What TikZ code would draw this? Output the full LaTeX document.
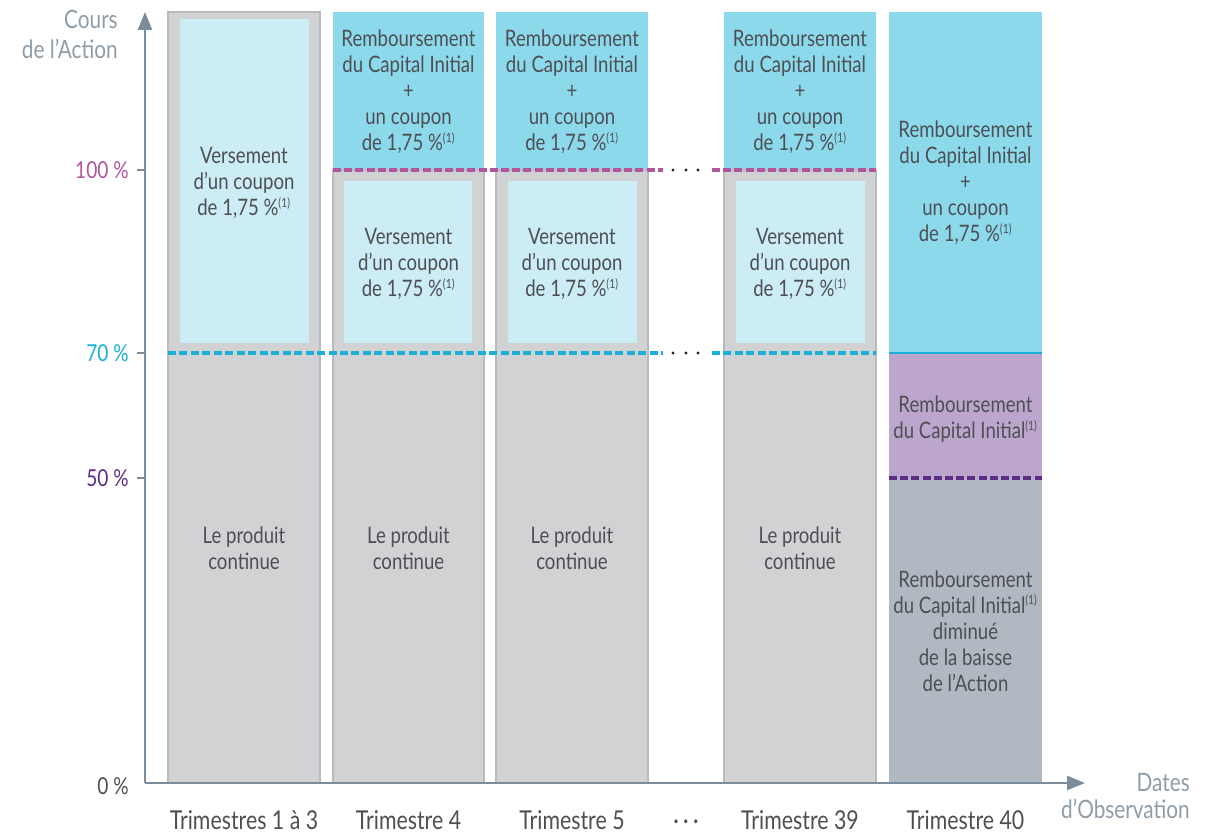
\documentclass[tikz,border=0pt]{standalone}
\usepackage{fontspec}
\setmainfont{Lato}[FakeStretch=0.82]
\usetikzlibrary{arrows.meta}
\definecolor{cgray}{HTML}{D1D2D4}
\definecolor{cborder}{HTML}{B9BBBE}
\definecolor{clight}{HTML}{CDEDF6}
\definecolor{cblue}{HTML}{8DD9EC}
\definecolor{cpurl}{HTML}{BDA6CD}
\definecolor{cgblue}{HTML}{B0B8C1}
\definecolor{cmag}{HTML}{B0569F}
\definecolor{ccyan}{HTML}{19AFD6}
\definecolor{cdpur}{HTML}{5B2D86}
\definecolor{caxis}{HTML}{7B8D9B}
\definecolor{caxlab}{HTML}{8F9CA7}
\definecolor{ctext}{HTML}{4D4F53}
\newcommand\exposant{\textsuperscript{\fontsize{9.5}{9.5}\selectfont(1)}}
\begin{document}
\begin{tikzpicture}[x=0.75pt,y=-0.75pt,
  colbox/.style={fill=cgray,draw=cborder,line width=1.1pt},
  innerbox/.style={fill=clight},
  txt/.style={text=ctext,align=center,inner sep=0pt,font=\fontsize{17}{19.5}\selectfont},
  ticklab/.style={anchor=east,inner sep=0pt,font=\fontsize{17.5}{19.5}\selectfont},
  axlab/.style={anchor=base east,inner sep=0pt,text=caxlab,font=\fontsize{19}{21}\selectfont},
  botlab/.style={anchor=base,inner sep=0pt,text=ctext,font=\fontsize{19.5}{21}\selectfont},
  magdash/.style={draw=cmag,line width=2.3pt,dash pattern=on 6pt off 2.4pt},
  cyandash/.style={draw=ccyan,line width=2.3pt,dash pattern=on 6pt off 2.6pt},
  purdash/.style={draw=cdpur,line width=2.3pt,dash pattern=on 6pt off 2.4pt},
  axisline/.style={draw=caxis,line width=1.9pt},
  ticks/.style={draw=caxis,line width=1.9pt},
  dotmark/.style={fill=black!85}
]
\useasboundingbox (0,0) rectangle (1208,837);

% Column 1
\draw[colbox] (168,12) rectangle (320,783);
\fill[innerbox] (180,19) rectangle (309,343);
% Column 2
\fill[cblue] (333,12) rectangle (484,170);
\draw[colbox] (333,170) rectangle (484,783);
\fill[innerbox] (344,181) rectangle (472,343);
% Column 3
\fill[cblue] (496,12) rectangle (648,170);
\draw[colbox] (496,170) rectangle (648,783);
\fill[innerbox] (508,181) rectangle (637,343);
% Column 39
\fill[cblue] (724,12) rectangle (876,170);
\draw[colbox] (724,170) rectangle (876,783);
\fill[innerbox] (736,181) rectangle (865,343);
% Column 40
\fill[cblue] (889,12) rectangle (1042,353);
\fill[cpurl] (889,353) rectangle (1042,478);
\fill[cgblue] (889,478) rectangle (1042,783);

% Level lines
\coordinate (m1) at (333,170); \coordinate (m2) at (663,170);
\coordinate (m3) at (712,170); \coordinate (m4) at (876,170);
\draw[magdash] (m1) -- (m2);
\draw[magdash] (m3) -- (m4);
\coordinate (c1) at (168,353); \coordinate (c2) at (663,353);
\coordinate (c3) at (712,353); \coordinate (c4) at (876,353);
\draw[cyandash] (c1) -- (c2);
\draw[cyandash] (c3) -- (c4);
\coordinate (c5) at (889,353); \coordinate (c6) at (1042,353);
\draw[draw=ccyan,line width=2.2pt] (c5) -- (c6);
\coordinate (p1) at (889,478); \coordinate (p2) at (1042,478);
\draw[purdash] (p1) -- (p2);
\foreach \x in {673,686,698}{
  \fill[dotmark] (\x,170) circle (1.7);
  \fill[dotmark] (\x,353) circle (1.7);
}

% Axes
\coordinate (o) at (145,783);
\coordinate (ytop) at (145,12);
\coordinate (xend) at (1085,783);
\draw[axisline,-{Triangle[width=10.5pt,length=13.5pt]}] (o) -- (ytop);
\draw[axisline,-{Triangle[width=10.5pt,length=13.5pt]}] (o) -- (xend);
\foreach \y in {170,353,478}{\draw[ticks] (137,\y) -- (145,\y);}

% Tick labels
\node[ticklab,text=cmag] (l100) at (129,170) {100 \%};
\node[ticklab,text=ccyan] (l70) at (129,353) {70 \%};
\node[ticklab,text=cdpur] (l50) at (129,478) {50 \%};
\node[ticklab,text=ctext] (l0) at (129,786) {0 \%};

% Axis labels
\node[axlab] (ya1) at (118,29) {Cours};
\node[axlab] (ya2) at (118,59) {de l’Action};
\node[axlab] (xa1) at (1190,792) {Dates};
\node[axlab] (xa2) at (1190,819) {d’Observation};

% Column texts
\node[txt] (t1a) at (244,183) {Versement\\d’un coupon\\de 1,75 \%\exposant};
\node[txt] (t2a) at (408.5,92) {Remboursement\\du Capital Initial\\+\\un coupon\\de 1,75 \%\exposant};
\node[txt] (t3a) at (572,92) {Remboursement\\du Capital Initial\\+\\un coupon\\de 1,75 \%\exposant};
\node[txt] (t5a) at (800,92) {Remboursement\\du Capital Initial\\+\\un coupon\\de 1,75 \%\exposant};
\node[txt] (t2b) at (408.5,264) {Versement\\d’un coupon\\de 1,75 \%\exposant};
\node[txt] (t3b) at (572,264) {Versement\\d’un coupon\\de 1,75 \%\exposant};
\node[txt] (t5b) at (800,264) {Versement\\d’un coupon\\de 1,75 \%\exposant};
\node[txt] (t1c) at (244,548) {Le produit\\continue};
\node[txt] (t2c) at (408.5,548) {Le produit\\continue};
\node[txt] (t3c) at (572,548) {Le produit\\continue};
\node[txt] (t5c) at (800,548) {Le produit\\continue};
\node[txt] (t6a) at (965.5,183) {Remboursement\\du Capital Initial\\+\\un coupon\\de 1,75 \%\exposant};
\node[txt] (t6b) at (965.5,419) {Remboursement\\du Capital Initial\exposant};
\node[txt] (t6c) at (965.5,631) {Remboursement\\du Capital Initial\exposant\\diminué\\de la baisse\\de l’Action};

% Bottom labels
\node[botlab] (b1) at (244,830) {Trimestres 1 à 3};
\node[botlab] (b2) at (408.5,830) {Trimestre 4};
\node[botlab] (b3) at (572,830) {Trimestre 5};
\node[botlab] (b4) at (686,830) {·\,·\,·};
\node[botlab] (b5) at (800,830) {Trimestre 39};
\node[botlab] (b6) at (965.5,830) {Trimestre 40};
\end{tikzpicture}
\end{document}
